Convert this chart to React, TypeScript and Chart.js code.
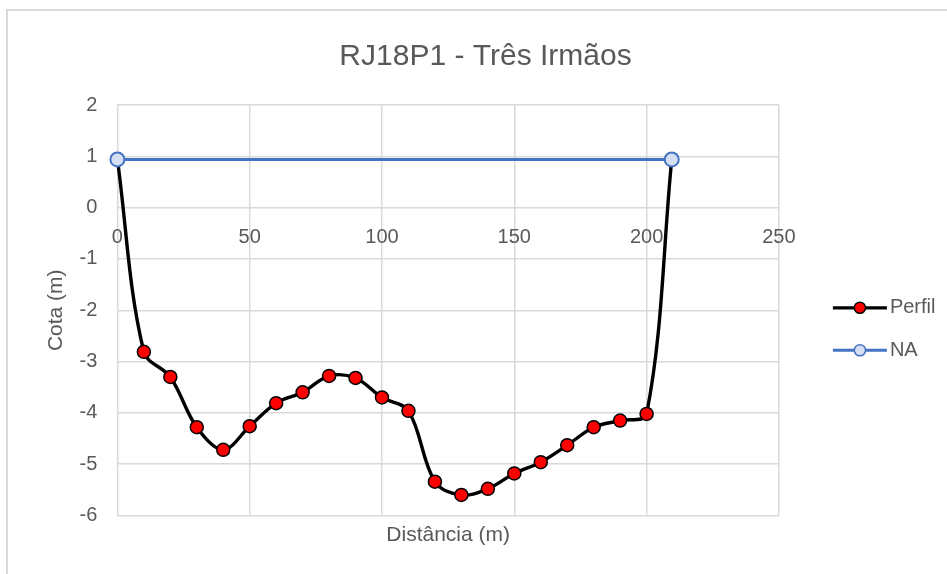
import React, { useEffect, useRef } from "react";
import { Chart, registerables } from "chart.js";

Chart.register(...registerables);

// ---- data ----
const chartTitle = "RJ18P1 - Três Irmãos";
const xAxisTitle = "Distância (m)";
const yAxisTitle = "Cota (m)";
const seriesNames = ["Perfil", "NA"];

const perfilX = [0, 10, 20, 30, 40, 50, 60, 70, 80, 90, 100, 110, 120, 130, 140, 150, 160, 170, 180, 190, 200, 209.5];
const perfilY = [0.94, -2.81, -3.3, -4.28, -4.72, -4.26, -3.81, -3.6, -3.28, -3.32, -3.7, -3.96, -5.34, -5.6, -5.48, -5.18, -4.96, -4.63, -4.28, -4.15, -4.02, 0.94];

const naX = [0, 209.5];
const naY = [0.94, 0.94];

const xMin = 0;
const xMax = 250;
const xStep = 50;
const yMin = -6;
const yMax = 2;
const yStep = 1;

// ---- styles ----
const FONT = "'Liberation Sans', Arial, sans-serif";
const TEXT = "#595959";
const GRID = "#D9D9D9";
const PERFIL_LINE = "#000000";
const PERFIL_FILL = "#FF0000";
const NA_LINE = "#4472C4";
const NA_FILL = "#D5DFF2";

const W = 947;
const H = 574;

const framePlugin = {
  id: "frame",
  beforeDraw(chart: any) {
    const ctx = chart.ctx;
    ctx.save();
    ctx.fillStyle = "#FFFFFF";
    ctx.fillRect(0, 0, chart.width, chart.height);
    ctx.strokeStyle = GRID;
    ctx.lineWidth = 2;
    ctx.beginPath();
    ctx.moveTo(7, chart.height);
    ctx.lineTo(7, 10);
    ctx.lineTo(chart.width, 10);
    ctx.stroke();
    ctx.restore();
  },
};

const titlePlugin = {
  id: "customTitle",
  afterDraw(chart: any) {
    const ctx = chart.ctx;
    ctx.save();
    ctx.fillStyle = TEXT;
    ctx.font = `30px ${FONT}`;
    ctx.textAlign = "center";
    ctx.textBaseline = "alphabetic";
    ctx.fillText(chartTitle, 485.5, 64.5);
    ctx.restore();
  },
};

const legendPlugin = {
  id: "customLegend",
  afterDraw(chart: any) {
    const ctx = chart.ctx;
    const area = chart.chartArea;
    const cy = (area.top + area.bottom) / 2;
    const items = [
      { label: seriesNames[0], line: PERFIL_LINE, fill: PERFIL_FILL, border: "#000000", y: cy - 2.5, lw: 3.25 },
      { label: seriesNames[1], line: NA_LINE, fill: NA_FILL, border: NA_LINE, y: cy + 40, lw: 3 },
    ];
    ctx.save();
    for (const it of items) {
      const x0 = area.right + 54;
      const x1 = x0 + 54;
      ctx.strokeStyle = it.line;
      ctx.lineWidth = it.lw;
      ctx.beginPath();
      ctx.moveTo(x0, it.y);
      ctx.lineTo(x1, it.y);
      ctx.stroke();
      ctx.beginPath();
      ctx.arc((x0 + x1) / 2, it.y, 5.6, 0, Math.PI * 2);
      ctx.fillStyle = it.fill;
      ctx.fill();
      ctx.lineWidth = 1.5;
      ctx.strokeStyle = it.border;
      ctx.stroke();
      ctx.fillStyle = TEXT;
      ctx.font = `20px ${FONT}`;
      ctx.textAlign = "left";
      ctx.textBaseline = "middle";
      ctx.fillText(it.label, x1 + 3, it.y);
    }
    ctx.restore();
  },
};

export default function App() {
  const canvasRef = useRef<HTMLCanvasElement | null>(null);

  useEffect(() => {
    const canvas = canvasRef.current;
    if (!canvas) return;

    const perfilData = perfilX.map((x, i) => ({ x, y: perfilY[i] }));
    const naData = naX.map((x, i) => ({ x, y: naY[i] }));

    const chart = new Chart(canvas, {
      type: "line",
      data: {
        datasets: [
          {
            label: seriesNames[0],
            data: perfilData,
            borderColor: PERFIL_LINE,
            borderWidth: 3.4,
            pointBackgroundColor: PERFIL_FILL,
            pointBorderColor: "#000000",
            pointBorderWidth: 1.5,
            pointRadius: 6.5,
            tension: 0.35,
            clip: false,
            order: 1,
          },
          {
            label: seriesNames[1],
            data: naData,
            borderColor: NA_LINE,
            borderWidth: 3,
            pointBackgroundColor: NA_FILL,
            pointBorderColor: NA_LINE,
            pointBorderWidth: 2,
            pointRadius: 7,
            tension: 0,
            clip: false,
            order: 0,
          },
        ],
      },
      options: {
        animation: false,
        responsive: false,
        devicePixelRatio: 1,
        layout: { padding: { top: 105, right: W - 778.9, left: 0, bottom: 0 } },
        plugins: {
          legend: { display: false },
          title: { display: false },
          tooltip: { enabled: false },
        },
        scales: {
          x: {
            type: "linear",
            position: "bottom",
            min: xMin,
            max: xMax,
            afterFit: (s: any) => {
              s.height = H - 515.5;
            },
            ticks: { display: false, stepSize: xStep },
            grid: { color: GRID, lineWidth: 1.5, drawTicks: false },
            border: { display: false },
            title: {
              display: true,
              text: xAxisTitle,
              color: TEXT,
              font: { family: FONT, size: 21 },
              padding: { top: 0, bottom: 25.7 },
            },
          },
          x2: {
            type: "linear",
            axis: "x",
            position: { y: 0 },
            min: xMin,
            max: xMax,
            ticks: {
              stepSize: xStep,
              color: TEXT,
              font: { family: FONT, size: 20 },
              padding: 17.6,
              maxRotation: 0,
            },
            grid: { display: false, drawTicks: false },
            border: { display: false },
          },
          y: {
            type: "linear",
            position: "left",
            min: yMin,
            max: yMax,
            afterFit: (s: any) => {
              s.width = 117.4;
            },
            ticks: {
              stepSize: yStep,
              color: TEXT,
              font: { family: FONT, size: 20 },
              padding: 20,
            },
            grid: { color: GRID, lineWidth: 1.5, drawTicks: false },
            border: { display: false },
            title: {
              display: true,
              text: yAxisTitle,
              color: TEXT,
              font: { family: FONT, size: 21 },
              padding: { top: 44, bottom: 0 },
            },
          },
        },
      } as any,
      plugins: [framePlugin, titlePlugin, legendPlugin],
    });

    return () => {
      chart.destroy();
    };
  }, []);

  return (
    <div style={{ position: "absolute", left: 0, top: 0, width: W, height: H, background: "#fff" }}>
      <canvas ref={canvasRef} width={W} height={H} style={{ width: W, height: H, display: "block" }} />
    </div>
  );
}
